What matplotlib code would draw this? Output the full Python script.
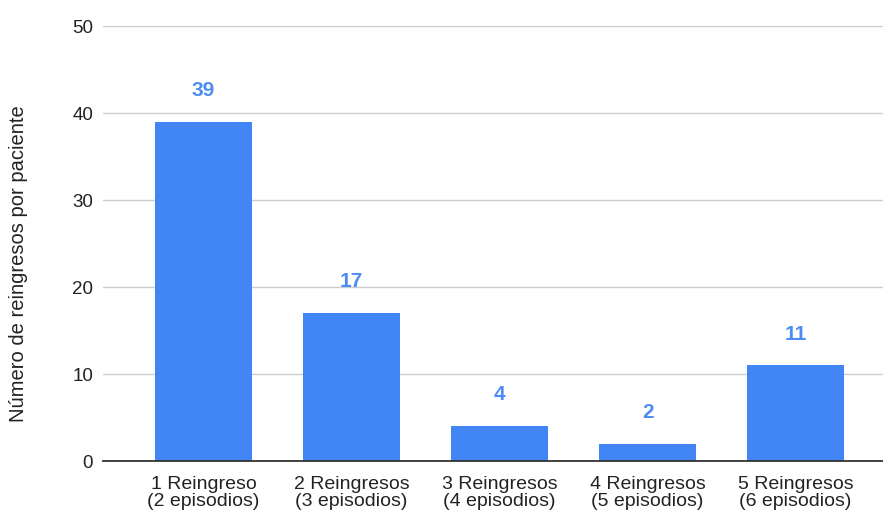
import matplotlib
matplotlib.use("Agg")
import matplotlib.pyplot as plt
import numpy as np

plt.rcParams['font.family'] = ['Liberation Sans', 'DejaVu Sans']

categorias = ["1 Reingreso\n(2 episodios)", "2 Reingresos\n(3 episodios)",
              "3 Reingresos\n(4 episodios)", "4 Reingresos\n(5 episodios)",
              "5 Reingresos\n(6 episodios)"]
pacientes = [39, 17, 4, 2, 11]
yticks = [0, 10, 20, 30, 40, 50]

bar_color = "#4285F4"
label_color = "#4D8CF5"
text_color = "#222222"

fig = plt.figure(figsize=(8.83, 5.12), dpi=100)
ax = fig.add_axes([0.1166, 0.0996, 0.8834, 0.8496])

x = np.arange(len(categorias))
ax.bar(x, pacientes, width=0.655, color=bar_color, zorder=3)

# valor encima de cada barra
for xi, v in zip(x, pacientes):
    ax.annotate(str(v), (xi, v), xytext=(0, 22.5), textcoords="offset points",
                ha="center", va="center", fontsize=15, fontweight="bold",
                color=label_color)

ax.set_xlim(-0.68, 4.59)
ax.set_ylim(0, 50)
ax.set_yticks(yticks)
ax.set_xticks(x)
ax.set_xticklabels(categorias, fontsize=14, color=text_color, linespacing=0.95)
ax.tick_params(axis="y", labelsize=13.5, labelcolor=text_color, length=0, pad=7)
ax.tick_params(axis="x", length=0, pad=11)

ax.grid(axis="y", color="#CCCCCC", linewidth=1.0, zorder=0)
for s in ["top", "right", "left"]:
    ax.spines[s].set_visible(False)
ax.spines["bottom"].set_color("#333333")
ax.spines["bottom"].set_linewidth(1.3)
ax.spines["bottom"].set_zorder(4)

ax.set_ylabel("Número de reingresos por paciente", fontsize=14.5, color=text_color)
ax.yaxis.set_label_coords(-0.096, 0.453)

fig.savefig("out.png", dpi=100)
